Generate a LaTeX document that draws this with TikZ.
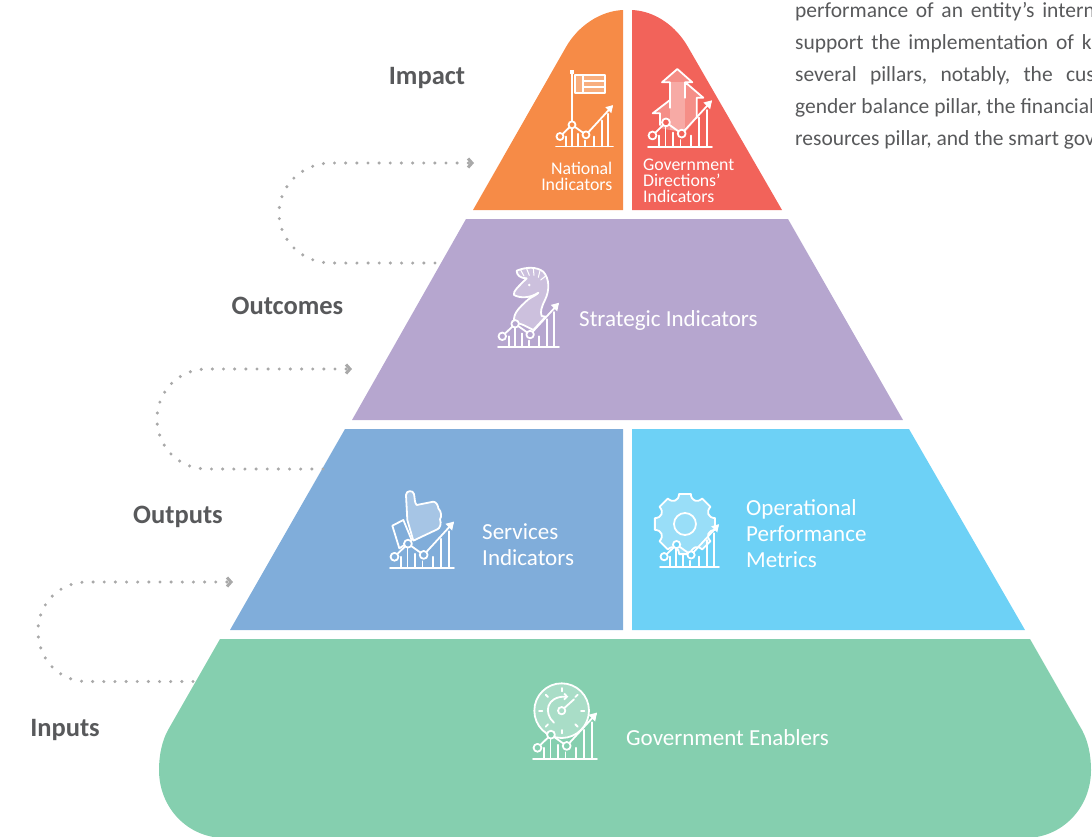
\documentclass[tikz,border=0pt]{standalone}
\usepackage{fontspec}
\setmainfont{Carlito}
\usetikzlibrary{arrows.meta}
\definecolor{ctext}{HTML}{58595B}
\definecolor{cdot}{HTML}{A9A9A9}
\definecolor{corange}{HTML}{F68B47}
\definecolor{cred}{HTML}{F2635A}
\definecolor{cpurple}{HTML}{B6A6CF}
\definecolor{cblue}{HTML}{80ADDA}
\definecolor{ccyan}{HTML}{6DD1F6}
\definecolor{cgreen}{HTML}{85CFAF}
\tikzset{
  levellabel/.style={text=ctext,font=\fontsize{26.5}{30}\selectfont\bfseries,inner sep=0pt},
  inlabel/.style={text=white,font=\fontsize{23}{26}\selectfont,inner sep=0pt,anchor=west,align=left},
  smalllabel/.style={text=white,font=\fontsize{17.8}{16}\selectfont,inner sep=0pt},
  bodyline/.style={text=ctext,font=\fontsize{21.5}{24}\selectfont,inner sep=0pt,anchor=base west},
  conn/.style={draw=cdot,line width=3.4pt,line cap=round,dash pattern=on 0pt off 11.15pt,
    -{Straight Barb[length=4pt,width=9pt,line width=3pt]}},
  ico/.style={draw=white,line width=1.8pt,line join=round,line cap=round},
  zoomed/.style={shift={#1},x=0.3333pt,y=-0.3333pt},
}
% chart icon: left x, baseline y, total width, background colour
\newcommand{\chartico}[4]{%
  \begin{scope}[shift={(#1,#2)},x=#3/171*1pt,y=-#3/171*1pt]
    \draw[ico] (0,0) -- (171,0);
    \foreach \bx/\by in {30/-30,47/-52,67/-38,87/-18,114/-30,137/-78,157/-98}
      \draw[ico] (\bx,0) -- (\bx,\by);
    \draw[ico] (12,-30) -- (48,-65) -- (90,-35) -- (168,-120);
    \fill[white] (171,-124) -- (148,-118) -- (166,-100) -- cycle;
    \draw[ico,fill=#4] (12,-30) circle[radius=10.5];
    \draw[ico,fill=#4] (48,-65) circle[radius=10.5];
    \draw[ico,fill=#4] (90,-35) circle[radius=10.5];
  \end{scope}}
\begin{document}
\begin{tikzpicture}[x=1pt,y=-1pt]
\useasboundingbox (0,0) rectangle (1092,836);
\clip (0,0) rectangle (1092,836);
% pyramid
\fill[corange] (623,10) -- (623,210) -- (473,210) -- (566,47) .. controls (578,26) and (600,11) .. (623,10) -- cycle;
\fill[cred] (632,10) -- (632,210) -- (782,210) -- (688,47) .. controls (676,26) and (655,11) .. (632,10) -- cycle;
\fill[cpurple] (466,219) -- (788,219) -- (903,420) -- (352,420) -- cycle;
\fill[cblue] (345,429) -- (623,429) -- (623,630) -- (230,630) -- cycle;
\fill[ccyan] (632,429) -- (909,429) -- (1025,630) -- (632,630) -- cycle;
\fill[cgreen] (220,639) -- (1030,639) -- (1082,730) .. controls (1088,741) and (1091,755) .. (1091,770)
  .. controls (1091,808) and (1062,838) .. (1025,838) -- (225,838)
  .. controls (188,838) and (159,808) .. (159,770) .. controls (159,755) and (162,741) .. (168,730) -- cycle;
% connectors
\coordinate (c1s) at (435,263); \coordinate (c1e) at (474,163);
\coordinate (c2s) at (323,469); \coordinate (c2e) at (352,369);
\coordinate (c3s) at (193,681.5); \coordinate (c3e) at (233,582);
\draw[conn] (c1s) -- (331,263) .. controls (303,263) and (279,241) .. (279,213) .. controls (279,185) and (303,163) .. (331,163) -- (c1e);
\draw[conn] (c2s) -- (207,469) .. controls (179,469) and (157,447) .. (157,419) .. controls (157,391) and (179,369) .. (207,369) -- (c2e);
\draw[conn] (c3s) -- (87,681.5) .. controls (59,681.5) and (38,659) .. (38,631) .. controls (38,604) and (59,582) .. (87,582) -- (c3e);
% level labels
\node[levellabel] (limpact) at (427,78) {Impact};
\node[levellabel] (loutcomes) at (287.5,306) {Outcomes};
\node[levellabel] (loutputs) at (178,517) {Outputs};
\node[levellabel] (linputs) at (65,730) {Inputs};
% body text
\node[bodyline] (b1) at (795,17) {\spaceskip=7.7pt performance of an entity’s intern};
\node[bodyline] (b2) at (795,49) {\spaceskip=7.9pt support the implementation of k};
\node[bodyline] (b3) at (795,81) {\spaceskip=13.3pt several pillars, notably, the cus};
\node[bodyline] (b4) at (795,113) {gender balance pillar, the financial};
\node[bodyline] (b5) at (795,145) {resources pillar, and the smart gov};
% flag icon
\draw[ico] (572,72) -- (572,124);
\fill[white] (570,70) rectangle (574,74);
\fill[white,opacity=.3] (575,75) rectangle (605,93);
\draw[ico,line width=1.4pt] (575,75) rectangle (605,93);
\draw[ico,line width=1.4pt] (583,75) -- (583,93) (583,81) -- (605,81) (583,87) -- (605,87);
\chartico{556}{146.5}{57}{corange}
% arrows icon
\fill[white,opacity=.28] (660,128) -- (660,113.3) -- (652.7,113.3) -- (670,100) -- (670,82.3) -- (662,82.3) -- (677.3,69) -- (692.3,82.3) -- (685,82.3) -- (685,84) -- (687.3,84) -- (703.3,97.7) -- (696.7,97.7) -- (696.7,118) -- (685,133) -- cycle;
\fill[white,opacity=.25] (670,82.3) rectangle (685,130);
\draw[ico] (660,125) -- (660,113.3) -- (652.7,113.3) -- (670,100) -- (670,82.3) -- (662,82.3) -- (677.3,69) -- (692.3,82.3) -- (685,82.3) -- (685,84) -- (687.3,84) -- (703.3,97.7) -- (696.7,97.7) -- (696.7,118);
\draw[ico,line width=1.2pt] (685,84) -- (685,98) (670,100) -- (670,108);
\chartico{648}{146.7}{64}{cred}
% knight icon
\begin{scope}[zoomed={(370,250)}]
  \path[ico,fill=white,fill opacity=.3] (432,215) .. controls (430,190) and (445,175) .. (475,148)
    .. controls (490,138) and (500,135) .. (505,128) .. controls (480,145) and (450,145) .. (432,135)
    .. controls (428,125) and (445,110) .. (470,85) .. controls (450,85) and (440,75) .. (440,62)
    .. controls (470,50) and (500,50) .. (520,65) .. controls (538,85) and (540,120) .. (525,150)
    .. controls (515,170) and (510,185) .. (515,198) -- (527,200) -- (490,240) -- (460,225) -- cycle;
  \draw[ico,line width=1pt] (452,60) -- (462,78) (470,56) -- (478,76) (490,55) -- (492,76) (510,62) -- (505,82) (527,78) -- (512,90);
  \fill[white] (478,105) circle[radius=4];
\end{scope}
\chartico{498}{347}{61}{cpurple}
% thumb icon
\begin{scope}[zoomed={(370,470)}]
  \path[ico,fill=white,fill opacity=.3] (112,150) -- (108,75) .. controls (108,60) and (130,60) .. (132,72)
    .. controls (135,85) and (133,98) .. (140,105) -- (190,95) .. controls (200,95) and (205,110) .. (205,115)
    .. controls (215,125) and (215,140) .. (210,148) .. controls (215,160) and (210,175) .. (202,178)
    -- (130,212) -- cycle;
  \draw[ico] (67,167) -- (100,150) -- (125,210) -- (88,235) -- cycle;
\end{scope}
\chartico{390}{568}{64}{cblue}
% gear icon
\begin{scope}[zoomed={(370,470)}]
  \draw[ico,fill=white,fill opacity=.3]
    ({945+92*cos(-11)},{162+92*sin(-11)})
    \foreach \a in {0,45,...,315} {
      -- ({945+92*cos(\a-11)},{162+92*sin(\a-11)})
      -- ({945+92*cos(\a+11)},{162+92*sin(\a+11)})
      .. controls ({945+72*cos(\a+15)},{162+72*sin(\a+15)}) and ({945+72*cos(\a+30)},{162+72*sin(\a+30)})
      .. ({945+92*cos(\a+34)},{162+92*sin(\a+34)})
    } -- cycle;
  \draw[ico] (945,162) circle[radius=33];
\end{scope}
\chartico{660}{567}{59}{ccyan}
% gauge icon
\begin{scope}[zoomed={(510,670)}]
  \draw[ico,fill=white,fill opacity=.3] (155,122) circle[radius=82];
  \foreach \a in {0,45,...,315}
    \draw[ico,line width=1.8pt] (155,122) ++(\a:58) -- ++(\a:10);
  \draw[ico,line width=1.8pt,-{Straight Barb[length=3pt,width=6pt]}] (132,158) .. controls (100,130) and (108,78) .. (175,80);
  \draw[ico,line width=1.8pt] (163,114) -- (192,88);
  \draw[ico] (155,122) circle[radius=11];
\end{scope}
\chartico{533}{759}{64}{cgreen}
% inner labels
\node[smalllabel,anchor=north east,align=right] (tnat) at (612.5,162) {National\\Indicators};
\node[smalllabel,anchor=north west,align=left] (tgov) at (643,158.5) {Government\\Directions’\\Indicators};
\node[inlabel] (tstr) at (579,320) {Strategic Indicators};
\node[inlabel] (tser) at (482,545) {Services\\Indicators};
\node[inlabel] (topr) at (746,534) {Operational\\Performance\\Metrics};
\node[inlabel] (tgen) at (626,738) {Government Enablers};
\end{tikzpicture}
\end{document}
